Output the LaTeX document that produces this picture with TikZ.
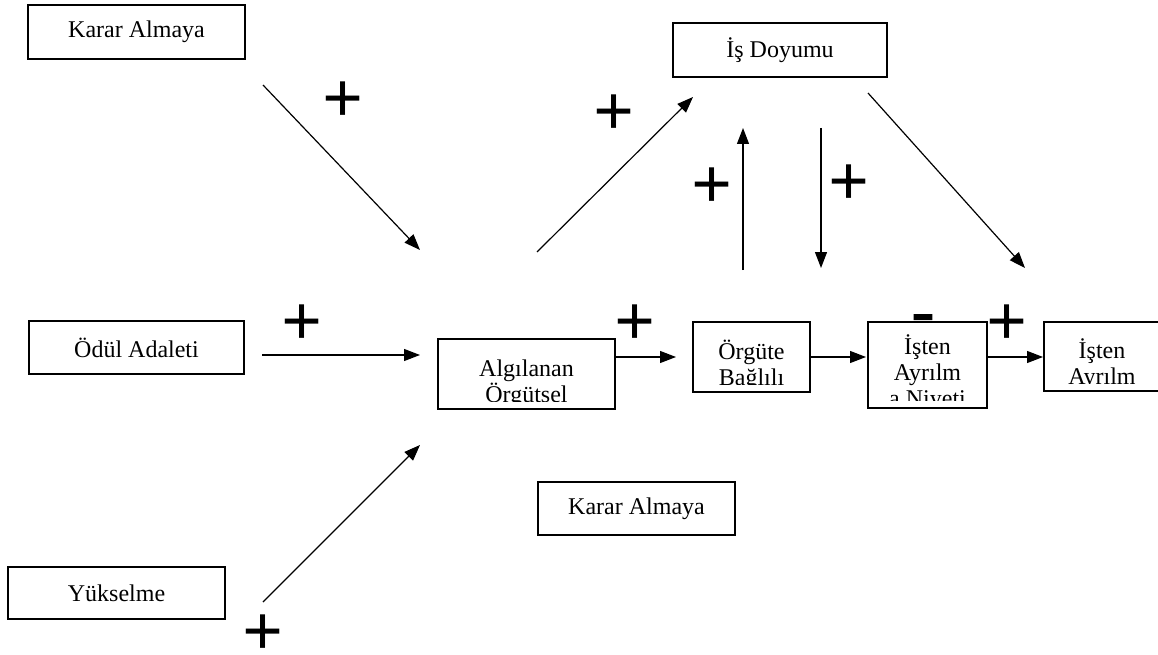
\documentclass[tikz,border=0pt]{standalone}
\usepackage{fontspec}
\setmainfont{Liberation Serif}
\usetikzlibrary{arrows.meta}

\begin{document}
\begin{tikzpicture}[x=1pt, y=-1pt]
\tikzset{Kutu/.style = {draw, line width=1.4pt, inner sep=0pt, font=\fontsize{24}{26}\selectfont},
  KesikKutu/.style = {Kutu, path picture={
    \clip ([yshift=8pt]path picture bounding box.south west) rectangle (path picture bounding box.north east);
    \node[anchor=north, align=center, inner sep=0pt, font=\fontsize{24}{26}\selectfont]
      at ([yshift=-6pt]path picture bounding box.north) {\rule{0pt}{22pt}#1};}},
  Ok/.style = {line width=1.2pt, -{Triangle[length=16pt, width=12pt]}},
  Isaret/.style = {inner sep=0pt, anchor=base, font=\fontsize{72}{72}\selectfont\bfseries}}
\useasboundingbox (0,0) rectangle (1158,655);

\node[Kutu, minimum width=217pt, minimum height=54pt] (karar) at (136.5,32) {Karar Almaya};
\node[Kutu, minimum width=214pt, minimum height=54pt] (doyum) at (780,50) {İş Doyumu};
\node[Kutu, minimum width=215pt, minimum height=53pt] (odul) at (136.5,347.5) {Ödül Adaleti};
\node[Kutu, minimum width=197pt, minimum height=53pt] (karar2) at (636.5,508.5) {Karar Almaya};
\node[Kutu, minimum width=217pt, minimum height=52pt] (yuksel) at (116.5,593) {Yükselme};
\node[KesikKutu={Algılanan\\Örgütsel}, minimum width=177pt, minimum height=70pt] (adalet) at (526.5,374) {};
\node[KesikKutu={Örgüte\\Bağlılı}, minimum width=117pt, minimum height=70pt] (bagli) at (751.5,357) {};
\node[KesikKutu={İşten\\Ayrılm\\a Niyeti}, minimum width=119pt, minimum height=86pt] (niyet) at (927.5,365) {};
\node[KesikKutu={İşten\\Ayrılm}, minimum width=116pt, minimum height=69pt] (ayril) at (1102,356.5) {};

% ok uclari
\coordinate (k1) at (263,85); \coordinate (k2) at (420,250);
\coordinate (o1) at (262,355); \coordinate (o2) at (420,355);
\coordinate (y1) at (263,602); \coordinate (y2) at (420,445);
\coordinate (a1) at (537,252); \coordinate (a2) at (693,97);
\coordinate (a3) at (676,357); \coordinate (b3) at (866,357); \coordinate (n3) at (1043,357);
\coordinate (u1) at (743,270); \coordinate (u2) at (743,128);
\coordinate (d1) at (821,128); \coordinate (d2) at (821,268);
\coordinate (s1) at (868,93); \coordinate (s2) at (1025,268);

\draw[Ok] (k1) -- (k2); \draw[Ok] (o1) -- (o2); \draw[Ok] (y1) -- (y2);
\draw[Ok] (a1) -- (a2); \draw[Ok] (u1) -- (u2); \draw[Ok] (d1) -- (d2); \draw[Ok] (s1) -- (s2);
\draw[Ok] (adalet.east |- a3) -- (a3); \draw[Ok] (bagli.east |- b3) -- (b3); \draw[Ok] (niyet.east |- n3) -- (n3);

\node[Isaret] (p1) at (343,123) {+}; \node[Isaret] (p2) at (614,136) {+};
\node[Isaret] (p3) at (712,208) {+}; \node[Isaret] (p4) at (849,205) {+};
\node[Isaret] (p5) at (302,345) {+}; \node[Isaret] (p6) at (635,345) {+};
\node[Isaret] (p7) at (1007,345) {+}; \node[Isaret] (p8) at (263,655) {+};
\node[Isaret] (m1) at (923,334) {-};
\end{tikzpicture}
\end{document}
